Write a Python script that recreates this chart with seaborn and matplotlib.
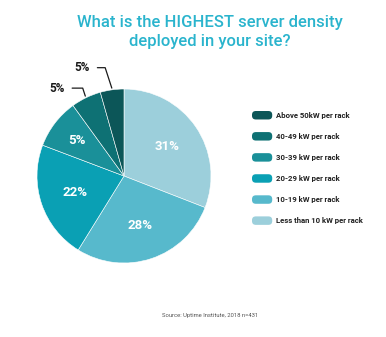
import numpy as np
import matplotlib
matplotlib.use("Agg")
import matplotlib.pyplot as plt
import seaborn as sns
from matplotlib.patches import FancyBboxPatch, Patch
from matplotlib.legend_handler import HandlerPatch

# ---- data ----
categories = ["Less than 10 kW per rack", "10-19 kW per rack", "20-29 kW per rack",
              "30-39 kW per rack", "40-49 kW per rack", "Above 50kW per rack"]
sizes = [31, 28, 22, 9.3, 5.6, 4.4]          # slice sizes as drawn
pct_labels = ["31%", "28%", "22%", "5%", "5%", "5%"]  # printed labels
colors = ["#9CCFDB", "#57B9CC", "#0AA0B4", "#1A9099", "#0E7174", "#0C5658"]

title = "What is the HIGHEST server density\ndeployed in your site?"
source = "Source: Uptime Institute, 2018 n=431"

sns.set_theme(style="white")
plt.rcParams['font.family'] = ['Roboto', 'DejaVu Sans']

W, H = 386, 337
fig = plt.figure(figsize=(W / 100, H / 100), dpi=100)
fig.patch.set_facecolor("white")

cx, cy, r = 124, 176, 87
ax = fig.add_axes([(cx - r) / W, (H - cy - r) / H, 2 * r / W, 2 * r / H])
wedges, _ = ax.pie(sizes, colors=colors, startangle=90, counterclock=False,
                   radius=1, wedgeprops=dict(edgecolor="white", linewidth=0.4))
ax.set_xlim(-1, 1)
ax.set_ylim(-1, 1)
ax.set_aspect("equal")
ax.axis("off")

# inside labels for the big slices
for w, lab in zip(wedges[:4], pct_labels[:4]):
    th = np.deg2rad((w.theta1 + w.theta2) / 2)
    rr = 0.68 if (w.theta2 - w.theta1) < 40 else 0.6
    ax.text(rr * np.cos(th), rr * np.sin(th), lab, ha="center", va="center",
            color="white", fontsize=9.5, fontweight="bold")

# outside labels with leader lines for the two smallest slices
text_pos = {5: (-0.48, 1.245), 4: (-0.77, 1.01)}
for i in (5, 4):
    w = wedges[i]
    th = np.deg2rad((w.theta1 + w.theta2) / 2)
    xy = (1.02 * np.cos(th), 1.02 * np.sin(th))
    ax.annotate(pct_labels[i], xy=xy, xytext=text_pos[i], ha="center", va="center",
                fontsize=8.5, fontweight="bold", color="#1a1a1a", annotation_clip=False,
                arrowprops=dict(arrowstyle="-", color="#1a1a1a", lw=0.9,
                                shrinkA=3, shrinkB=0,
                                connectionstyle="angle,angleA=0,angleB=108,rad=0"))

# title
fig.text(210 / W, 1 - 32 / H, title, ha="center", va="center", color="#2AB4CD",
         fontsize=12, fontweight="medium", linespacing=1.35)

# legend with rounded handles
class RoundHandler(HandlerPatch):
    def create_artists(self, legend, orig_handle, xdescent, ydescent, width, height,
                       fontsize, trans):
        p = FancyBboxPatch((-xdescent, -ydescent), width, height,
                           boxstyle="round,pad=0,rounding_size=%f" % (height * 0.45),
                           facecolor=orig_handle.get_facecolor(), edgecolor="none",
                           transform=trans)
        return [p]

handles = [Patch(facecolor=c, label=l) for c, l in zip(colors[::-1], categories[::-1])]
leg = fig.legend(handles=handles, loc="upper left", bbox_to_anchor=(252 / W, 1 - 111 / H),
                 frameon=False, fontsize=5.6, borderpad=0, borderaxespad=0,
                 handlelength=2.6, handleheight=1.3, handletextpad=0.5, labelspacing=1.62,
                 handler_map={Patch: RoundHandler()})
for t in leg.get_texts():
    t.set_color("#222222")
    t.set_fontweight("semibold")

fig.text(210 / W, 1 - 316 / H, source, ha="center", va="center", color="#555555",
         fontsize=4.2)

fig.savefig("out.png", dpi=100, facecolor="white")
